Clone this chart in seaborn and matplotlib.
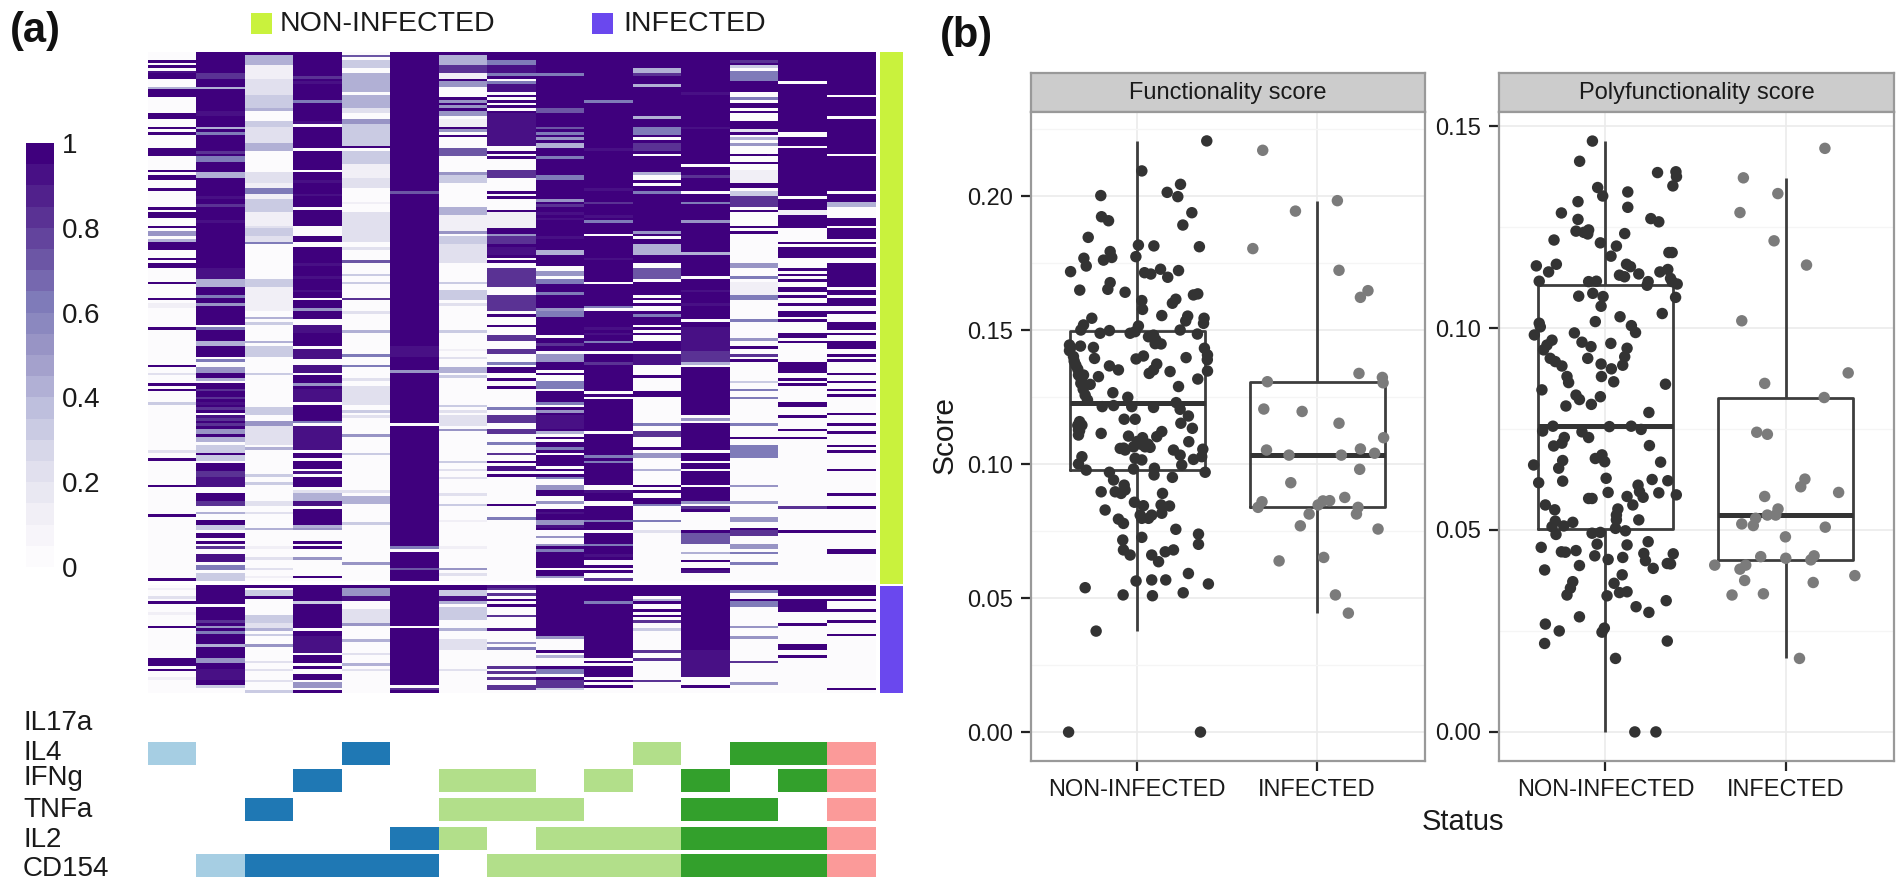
import numpy as np
import pandas as pd
import seaborn as sns
import matplotlib.pyplot as plt
from matplotlib.colors import ListedColormap
from matplotlib.patches import Rectangle

W, H = 1900, 881

sns.set_style("white")
plt.rcParams["font.family"] = ["Liberation Sans", "DejaVu Sans"]

LIME = "#c9f23d"
VIOLET = "#6a48ee"
PAIRED = ["#ffffff", "#a6cee3", "#1f78b4", "#b2df8a", "#33a02c", "#fb9a99"]

# heatmap values, in tenths: base level of each column + "row:level" or "first-last:level"
ni_bases = [0, 10, 0, 10, 0, 10, 0, 0, 10, 10, 10, 10, 0, 10, 10]
ni_stripes = [
    "3:10 5:10 7:9 8-9:10 13:4 14-15:10 16:10 23-24:10 28:10 30:10 36:10 37-38:10 44:10 46-47:10 51:10 58:10 60-61:10 65:10 67-68:5 70:4 71-73:10 77:10 79-80:10 86:10 92:10 94-95:1 "
    "103:10 117:10 120:2 124:10 126:10 131:3 149:2 152:10 162:10 173:10 197:10",
    "8-9:8 13:4 22-23:9 28:4 30:6 37:8 39-40:6 45-46:4 54:9 57:8 63:9 81-84:9 85-87:4 91:6 94:5 "
    "102:0 103:6 108-109:4 114:0 115:6 116-117:0 118-119:5 122:4 123:0 126:8 129:8 131:9 133:8 135:0 136:9 137:8 139:8 141-142:5 144-145:4 146:0 147-149:3 151-152:3 153:0 157-158:8 159-162:9 163-164:0 168-169:8 170-171:0 172:4 173-174:0 177-178:3 179:0 182:0 184:0 185:8 186-187:0 188-190:9 191:0 192-193:6 194:0 195-197:3",
    "0:10 1-4:4 5-9:1 10:2 11-15:2 16-20:3 21:4 26-27:3 28-33:2 34-36:4 45-48:2 49-50:1 51-52:6 53-54:1 55-59:3 60-64:1 65:2 66-68:3 69-70:2 71:6 85-87:3 88-96:1 "
    "99:4 101:3 108:4 110-113:3 120:3 133-135:3 138-139:5 140-146:2 148:4 158:3 161:3 168-169:2 172:2 178:4 185:1 189:2 193:2 196:1",
    "9:8 11:9 18:6 26:9 27:0 36:0 44:0 48:9 53:9 58:0 65-68:0 71-72:0 79:9 84:9 89:9 92:0 96:5 "
    "100-101:0 102-104:9 110:0 111-114:9 115-116:0 117-119:9 120:0 124:5 126-130:9 131:0 138:6 139:0 140-148:9 149:0 152:0 156:0 157:9 158:0 163:0 164:2 165-167:4 168-169:9 170:0 177:4 178:5 179-182:0 184:0 186-188:0 189:5 190-195:0 197:0",
    "1:7 3-5:3 8-14:4 16-20:4 21-22:2 25-26:5 27-34:3 35:10 37-41:3 42-46:1 47-50:2 56:1 60-70:2 73:2 78:7 83:3 86:3 92:8 "
    "97:2 104:4 113:6 117:6 122:2 125-131:2 134:3 136:2 143:5 150:3 164:2 166-168:4 176:3 191:5",
    "52:7 110-113:9 119:5 139:0 185:6 186:0 193:7",
    "0:10 1-4:4 5-7:8 8-9:1 10:10 11-12:5 17:10 18:5 19:10 20:5 21:10 22-23:5 25-27:1 28:10 29:5 31:10 36-38:7 45:5 46-48:3 58-60:4 61-66:1 67:5 69-71:3 72-78:2 86:3 89-92:3 94:2 "
    "104:3 111:1 114:2 118-119:4 121:3 132:3 134:2 136-139:2 141:5 153:3 156:2 159:2 165:2 169:3 175:1 185:1 193:5 195:2",
    "0-2:10 3-4:6 5-7:9 8:6 9:10 11:6 12-14:9 16:10 18:10 20:10 22:10 23-28:9 29-34:9 37:10 39:10 44-46:8 52:10 54:10 59:10 60-65:1 66-67:10 68:5 69-71:8 72:10 73-75:9 76:10 78:10 81-87:8 91-96:8 "
    "98:10 102:10 106-107:8 111-112:8 116:6 118-119:10 122:10 125:10 133:6 136-138:8 141-142:8 146:6 150:8 153:10 155-156:9 158:10 169:10 174:6",
    "8:6 21-22:7 28:7 30:6 32:5 34-35:4 39:6 46-47:6 55:5 57:8 60:9 62:9 69:9 74-75:4 80-81:0 82-83:5 84:0 85-86:6 90:6 96:5 "
    "97-98:6 106:0 109:8 112:0 113-115:5 119:0 121-122:0 123-125:6 126:0 131:6 132:0 134:5 136-140:9 142:4 143:0 145:0 148:6 150:0 155:0 157:0 159:6 160-161:0 162-163:5 166-167:0 168:5 169-170:0 172:9 175-176:5 177:9 179-180:0 181:5 182-183:0 184:5 186:6 193:0 196:5 197:0",
    "18:6 36:9 51:9 56:8 61:9 63:6 68:0 77:9 86:0 95:6 96:0 "
    "103:9 105:9 108:6 112:0 116:8 127:0 129:0 142:0 151:6 153:6 162-163:0 164:9 168-169:0 175:6 179:0 184:6 188:9 190-191:0 193:0 195-196:0 197:8",
    "6-7:4 8:8 12:4 24:4 28-30:6 32:0 34-36:8 38:0 45:4 46:0 47:0 49:0 52:6 67:5 69:0 72-75:4 79-80:0 81-84:7 85:0 91:0 93:0 95-96:0 "
    "98:6 102:0 104:0 106-107:0 112:0 113-116:9 117-197:0 121:10 127-128:10 139:6 142-143:8 148:10 150-151:5 156:4 162:10 164:10 167-168:10 169:6 175:6 179:2",
    "15:9 28:9 42:0 46:8 52:0 56:6 63:5 75:4 84:0 89:9 94:9 "
    "100:0 103-111:9 112-115:8 116:4 117:0 136:0 137:5 138:0 149:0 153:0 156:0 162:0 168:5 169:0 170:8 172-178:0 180-183:7 184-186:0 187:4 188-189:0 191-192:0 194:9 195-197:0",
    "0-2:10 3:8 4:10 5:3 7-10:6 11-14:10 17:6 19-20:10 22:10 26-28:10 29:2 30:10 32:4 34:5 38:10 41:10 44-48:1 49-50:10 52-53:3 54-57:8 59:10 65:10 67:10 79-80:5 84:6 86-90:1 91-92:6 "
    "100:6 107:5 110:10 113:8 115:10 123:3 126:6 129:6 139:6 144:10 147-151:6 162:5 168:5 174-175:5 178:10 179-180:8 184-185:5 187:6 191:6",
    "11:0 30-31:0 35:0 54:0 59-60:1 66-70:0 72:0 77-80:0 82:0 84:0 86-87:0 90:0 92:0 93:0 95-96:0 "
    "97-197:0 97-98:10 100:10 105-106:10 108:10 116-119:10 122:10 124:10 131-132:10 136:10 141:10 144:10 170:8 179:10",
    "16:0 24:0 38:0 52:0 56-57:4 58-61:0 65:0 70:0 72:0 77-78:0 88:0 91:0 95-96:0 "
    "97-197:0 97:10 101-103:10 105:10 108-110:10 113:10 115:10 120:10 123:10 126:10 128:10 135:10 139:10 142:10 147:10 149:10 156:10 165:10 170:10 179:10 186-187:10",
]
inf_bases = [0, 10, 0, 10, 0, 10, 0, 0, 10, 10, 0, 10, 0, 0, 0]
inf_stripes = [
    "1:1 4:2 6:10 10:1 15:10 27-29:10 31:10 34:1",
    "7:0 13:8 15:5 17:6 22:4 27-28:5 31-34:9 37:3 38-39:0",
    "0:10 2-3:3 4:10 11-13:3 14-15:2 16:4 18:3 22:5 28:2 31:2 35:2 39:3",
    "6:3 16:0 19-24:9 25:0 29:0 31-32:0 35:0 36-37:5 38:0",
    "0:10 1-3:5 4-5:9 9-13:2 14:5 20:4 25:2 29:4 31:2",
    "15:0 37:0 38:8",
    "0-1:10 2-3:3 4-5:9 6:4 8-12:3 16:4 20-23:2 31:2",
    "0:9 1:8 3:8 5:10 7:10 11:8 16:9 21:5 23:6 30:8 32:8 34:8 37-38:8",
    "19:5 20-23:0 25:0 26:4 27-29:0 31-32:6 33:0 35-37:8 38:3 39:0",
    "6:6 27:0 29:0 34:0 36:0 38-39:0",
    "0-3:10 5:4 6:10 9:10 11:10 13:8 16:3 24:8 27:8 35:8",
    "24-33:9 34-36:0 38-39:0",
    "0-1:10 2:6 5:10 6-7:6 15:5 19:5 28:8 36:5",
    "0-3:10 5-9:10 14:10 22-23:10 26:10",
    "0-3:10 5:10 9:10 13:10 18:10 38:10",
]

# which cytokines make up each of the 15 columns
cytokines = ["IL17a", "IL4", "IFNg", "TNFa", "IL2", "CD154"]
presence = [
    [0, 0, 0, 0, 0, 0, 0, 0, 0, 0, 0, 0, 0, 0, 0],
    [1, 0, 0, 0, 1, 0, 0, 0, 0, 0, 1, 0, 1, 1, 1],
    [0, 0, 0, 1, 0, 0, 1, 1, 0, 1, 0, 1, 0, 1, 1],
    [0, 0, 1, 0, 0, 0, 1, 1, 1, 0, 0, 1, 1, 0, 1],
    [0, 0, 0, 0, 0, 1, 1, 0, 1, 1, 1, 1, 1, 1, 1],
    [0, 1, 1, 1, 1, 1, 0, 1, 1, 1, 1, 1, 1, 1, 1],
]
tile_tops = [714, 742, 769, 798, 827, 854]
label_mids = [723, 753, 778, 810, 840, 869]

# box panels: jitter is the sideways offset from the category centre
func_ni_jitter = [.387, .026, .241, .167, .226, -.202, .304, -.198, -.159, .254, -.272, .007, .093, .346, -.150, -.007, -.296, -.141, -.187, -.283, .041, .076, .130, .230, .170, -.370, -.150, -.163, -.319, -.067, .337, .313, .026, .215, .196, .030, .137, .281, .270, .372, .369, -.252, -.298, -.313, .007, -.154, -.206, -.039, -.011, .239, .335, .091, .063, .104, .133, -.376, -.376, -.315, -.243, .374, .391, -.354, -.237, -.006, .035, .272, -.341, -.154, -.104, .109, .091, .067, .183, .391, -.326, -.298, -.215, .337, -.313, -.261, .230, -.289, -.135, -.052, -.276, .217, -.194, -.131, -.030, .091, .239, .285, -.072, -.011, -.320, -.307, .243, -.326, .307, -.326, -.200, -.048, .137, .109, .030, .287, .007, -.094, -.067, -.020, .044, .072, .202, .365, .239, .359, .313, -.011, .026, -.307, -.326, .248, -.283, -.154, -.020, .096, .094, .378, .196, -.131, -.072, -.200, -.122, -.089, -.067, .141, -.015, .035, .133, .180, -.178, .017, .137, .081, .063, .026, -.104, -.076, .215, .341, .026, -.080, .341, -.076, -.039, .081, .156, .202, .119, .285, -.006, .081, .159, .396, -.289, -.078, .085, .256, -.228, -.381, .352,
                  -.37, -.35, -.33, -.31, -.30, -.33, -.32, .0, .02, .06, -.075, .055, .39, .10]
func_ni_score = [.2207, .2095, .2045, .2015, .1999, .2003, .1939, .1924, .1909, .1893, .1847, .1818, .1815, .1812, .1794, .1775, .1769, .1772, .1762, .174, .1715, .171, .1728, .1723, .1698, .1719, .1678, .1653, .165, .1642, .1636, .1632, .1611, .1616, .1601, .1578, .1555, .1553, .1535, .1545, .1526, .1545, .152, .1501, .1516, .1499, .1489, .1489, .1495, .1501, .1486, .1482, .1476, .1464, .1449, .1445, .1424, .1441, .1436, .1433, .1408, .1402, .1395, .1393, .1404, .1398, .137, .1367, .1352, .1374, .1352, .1339, .1346, .1348, .1333, .1333, .1327, .1318, .1302, .1298, .129, .1258, .1267, .125, .124, .123, .1215, .1219, .1215, .1212, .1205, .118, .1168, .1168, .1159, .1146, .1153, .1128, .1134, .1109, .1115, .1105, .1122, .1103, .1099, .1084, .1078, .1059, .1053, .1065, .1065, .1063, .1053, .1056, .1034, .1028, .1018, .1022, .1016, .1028, .1001, .0997, .0978, .097, .0982, .0985, .096, .097, .0951, .0941, .0922, .0897, .0897, .0891, .0904, .0891, .0858, .0845, .0848, .0844, .0829, .081, .0817, .081, .0798, .0798, .0795, .0779, .0757, .0739, .0727, .0717, .0701, .068, .0661, .0661, .0673, .068, .0636, .0592, .0564, .0568, .0568, .0553, .0539, .0512, .0509, .052, .0377, 0.0, 0.0,
                 .1435, .1385, .1355, .1315, .128, .1145, .1125, .1085, .1075, .1075, .106, .107, .139, .145]
func_inf_jitter = [-.302, .113, -.120, -.357, .122, .283, .241, .233, .363, .367, -.276, -.296, -.083, .122, .370, -.281, -.156, .135, .241, .320, .237, -.146, .154, -.306, -.328, .070, .033, .006, .228, .219, -.044, -.093, .339, .037, -.211, .102, .174]
func_inf_score = [.2172, .1984, .1945, .1805, .1724, .1648, .1623, .1339, .1324, .1304, .1308, .1206, .1197, .1153, .1099, .1053, .1034, .1034, .1057, .1041, .0981, .0931, .0876, .086, .0839, .0864, .0863, .0848, .0839, .0814, .0814, .077, .0758, .0652, .0639, .0512, .0444]
poly_ni_jitter = [-.072, -.143, .289, .391, .394, .374, -.043, -.015, .124, -.152, .124, -.244, -.152, .252, .296, -.163, -.120, -.093, -.098, .107, -.285, -.028, .061, .031, .352, .370, -.383, -.272, -.315, .117, .139, .078, .106, .185, .302, .346, -.367, -.093, -.050, .237, .231, .361, .370, .398, -.148, -.070, -.013, -.024, .389, .315, -.056, .081, .144, .167, -.367, -.361, -.394, -.172, -.130, -.080, -.296, -.324, -.343, .030, .120, .107, .096, -.098, -.306, -.278, -.241, -.024, .033, -.213, -.204, -.022, .046, .333, -.352, -.163, -.144, -.028, -.219, -.078, .241, -.348, -.291, -.130, -.093, .022, .143, .198, .244, -.228, -.241, -.287, -.056, -.019, -.004, -.237, -.259, -.398, .306, -.370, -.237, .004, .259, .346, .181, .189, .209, .015, .296, .393, -.074, -.093, .120, .152, -.333, -.281, .069, .061, .061, .185, -.278, -.181, -.231, -.296, .056, -.274, -.074, -.028, .111, .237, -.046, .120, -.356, -.244, -.222, -.163, .213, .376, -.059, .096, .222, .015, .343, .361, -.144, -.337, .265, -.181, .093, -.194, -.213, .048, .009, .078, .120, .337, .170, .241, -.144, -.333, -.256, -.006, -.019, .343, -.337, .056, .163, .280]
poly_ni_score = [.1463, .1413, .1385, .1387, .1375, .1352, .1348, .1327, .1337, .1313, .1299, .1285, .1269, .1271, .1263, .124, .1237, .1243, .1233, .1234, .1218, .1211, .1203, .1178, .1187, .1187, .1154, .1158, .1139, .1158, .1152, .1131, .1127, .1134, .1139, .1145, .1116, .1115, .1116, .1115, .1106, .1123, .1115, .1109, .1079, .1086, .1078, .1054, .1076, .1036, .1016, .1028, .1006, .0989, .1012, .1003, .0983, .0988, .0965, .0954, .097, .0958, .0946, .0962, .095, .0929, .0908, .0925, .0925, .0917, .0906, .0911, .0899, .088, .0865, .088, .0867, .0861, .0847, .0834, .0823, .083, .0807, .0811, .0791, .0745, .0757, .0743, .0729, .0756, .0757, .0749, .0709, .0729, .0715, .0708, .0677, .0686, .0669, .0672, .0653, .0661, .0668, .0617, .0621, .0628, .0625, .0622, .0611, .0595, .0581, .0593, .0592, .0587, .0578, .0578, .0583, .0562, .0562, .055, .0552, .0537, .0525, .0525, .0522, .0519, .051, .0508, .0504, .0489, .0492, .0494, .0498, .0471, .0465, .0463, .0457, .0446, .0445, .0449, .0442, .0441, .0436, .0432, .0424, .0427, .0417, .0416, .0412, .0401, .0405, .0372, .0389, .0356, .0339, .0368, .0337, .0345, .0347, .0325, .031, .0296, .0285, .0267, .025, .0257, .0247, .0225, .0219, .0182, 0.0, 0.0]
poly_inf_jitter = [.217, -.235, -.044, -.254, -.065, .115, -.244, .346, -.117, .213, -.161, -.102, .106, .083, .293, -.117, -.043, -.102, -.056, -.167, -.244, -.180, .219, -.002, -.139, 0.0, .157, .139, -.222, -.394, -.254, .383, -.228, .152, -.298, -.124, .076]
poly_inf_score = [.1445, .1372, .1333, .1286, .1216, .1156, .1018, .0889, .0863, .0828, .0742, .0737, .0626, .0607, .0593, .0583, .0552, .0537, .0537, .0529, .0515, .0511, .0507, .0483, .0434, .043, .0436, .0426, .0413, .0413, .0403, .0387, .0375, .037, .0339, .0342, .0182]

status_order = ["NON-INFECTED", "INFECTED"]
point_colors = {"NON-INFECTED": "#333333", "INFECTED": "#7b7b7b"}


def expand(base, stripes, n_rows):
    col = np.full(n_rows, base, dtype=float)
    for token in stripes.split():
        where, level = token.split(":")
        first, _, last = where.partition("-")
        col[int(first):int(last or first) + 1] = int(level)
    return col / 10


def px_axes(left, top, right, bottom):
    return fig.add_axes([left / W, 1 - bottom / H, (right - left) / W, (bottom - top) / H])


def panel_frame(ni_jitter, ni_score, inf_jitter, inf_score):
    ni = pd.DataFrame({"status": status_order[0], "pos": 0 + np.array(ni_jitter), "score": ni_score})
    inf = pd.DataFrame({"status": status_order[1], "pos": 1 + np.array(inf_jitter), "score": inf_score})
    return pd.concat([ni, inf], ignore_index=True)


def draw_panel(left, right, ylim, major, minor, title, frame):
    strip = px_axes(left, 73, right, 112)
    strip.set_facecolor("#cccccc")
    strip.set_xticks([])
    strip.set_yticks([])
    for side in strip.spines.values():
        side.set_color("#999999")
        side.set_linewidth(1.6)
    strip.text(0.5, 0.48, title, ha="center", va="center", fontsize=17, color="#1a1a1a", transform=strip.transAxes)

    ax = px_axes(left, 112, right, 761)
    ax.set_axisbelow(True)
    sns.boxplot(data=frame, x="status", y="score", order=status_order, width=0.75, fill=False,
                color="#3d3d3d", linewidth=2.0, showfliers=False, showcaps=False,
                medianprops={"linewidth": 3.6, "color": "#333333"}, ax=ax)
    sns.scatterplot(data=frame, x="pos", y="score", hue="status", palette=point_colors, s=68,
                    linewidth=0, alpha=1, legend=False, zorder=3, ax=ax)
    ax.set_xlim(-0.59, 1.6)
    ax.set_ylim(*ylim)
    ax.set_yticks(major)
    ax.set_yticklabels([f"{m:.2f}" for m in major])
    ax.set_yticks(minor, minor=True)
    ax.set_xticks([0, 1])
    ax.set_xticklabels(status_order)
    ax.grid(True, which="major", color="#ebebeb", linewidth=1.2)
    ax.grid(True, which="minor", axis="y", color="#f5f5f5", linewidth=1.0)
    ax.tick_params(axis="both", which="major", length=7, width=1.6, color="#222222",
                   labelsize=17, labelcolor="#1a1a1a", pad=6, bottom=True, left=True)
    ax.tick_params(axis="y", which="minor", length=0)
    ax.set_xlabel("")
    ax.set_ylabel("")
    for side in ax.spines.values():
        side.set_color("#999999")
        side.set_linewidth(1.6)


fig = plt.figure(figsize=(W / 100, H / 100), dpi=100, facecolor="white")

purples = ListedColormap(plt.get_cmap("Purples", 20)(np.arange(20)))
ni_matrix = np.column_stack([expand(b, s, 198) for b, s in zip(ni_bases, ni_stripes)])
inf_matrix = np.column_stack([expand(b, s, 40) for b, s in zip(inf_bases, inf_stripes)])

heat_l, heat_r = 147.5, 875.5
cax = px_axes(26, 143, 54, 567)
ax_ni = px_axes(heat_l, 52, heat_r, 581)
sns.heatmap(ni_matrix, cmap=purples, vmin=0, vmax=1, xticklabels=False, yticklabels=False,
            ax=ax_ni, cbar_ax=cax, cbar_kws={"ticks": [0, 0.2, 0.4, 0.6, 0.8, 1]})
cax.set_yticklabels(["0", "0.2", "0.4", "0.6", "0.8", "1"])
cax.tick_params(length=0, labelsize=20, pad=6, labelcolor="#1a1a1a")
ax_ni.collections[0].colorbar.outline.set_visible(False)

ax_inf = px_axes(heat_l, 585, heat_r, 693)
sns.heatmap(inf_matrix, cmap=purples, vmin=0, vmax=1, xticklabels=False, yticklabels=False,
            cbar=False, ax=ax_inf)

# status bar beside the heatmap
for top, bottom, colour in [(52, 584, LIME), (586, 693, VIOLET)]:
    bar = px_axes(880, top, 903, bottom)
    sns.heatmap([[0]], cmap=[colour], cbar=False, xticklabels=False, yticklabels=False, ax=bar)

# cytokine tiles
degree = np.array(presence).sum(axis=0)
tile_cmap = ListedColormap(PAIRED)
for name, row, top, mid in zip(cytokines, presence, tile_tops, label_mids):
    tile = px_axes(heat_l, top, heat_r, top + 23)
    sns.heatmap([np.array(row) * degree], cmap=tile_cmap, vmin=-0.5, vmax=5.5, cbar=False,
                xticklabels=False, yticklabels=False, ax=tile)
    fig.text(23 / W, 1 - mid / H, name, fontsize=20, color="#1a1a1a", va="center")

# overlay for legend squares and panel letters, in picture pixels
overlay = fig.add_axes([0, 0, 1, 1], zorder=-1)
overlay.set_xlim(0, W)
overlay.set_ylim(H, 0)
overlay.axis("off")
overlay.add_patch(Rectangle((251, 13), 21, 21, color=LIME, linewidth=0))
overlay.add_patch(Rectangle((592, 13), 21, 21, color=VIOLET, linewidth=0))
overlay.text(280, 24, "NON-INFECTED", fontsize=20.5, va="center", color="#1a1a1a")
overlay.text(623, 24, "INFECTED", fontsize=20.5, va="center", color="#1a1a1a")
overlay.text(10, 31, "(a)", fontsize=30, fontweight="bold", va="center", color="#111111")
overlay.text(940, 36, "(b)", fontsize=30, fontweight="bold", va="center", color="#111111")
overlay.text(945, 435, "Score", fontsize=21.5, rotation=90, ha="center", va="center", color="#1a1a1a")
overlay.text(1463, 822, "Status", fontsize=21, ha="center", va="center", color="#1a1a1a")

draw_panel(1031, 1425, (-0.0108, 0.2315), [0, 0.05, 0.10, 0.15, 0.20], [0.025, 0.075, 0.125, 0.175, 0.225],
           "Functionality score", panel_frame(func_ni_jitter, func_ni_score, func_inf_jitter, func_inf_score))
draw_panel(1499, 1894, (-0.0072, 0.1535), [0, 0.05, 0.10, 0.15], [0.025, 0.075, 0.125],
           "Polyfunctionality score", panel_frame(poly_ni_jitter, poly_ni_score, poly_inf_jitter, poly_inf_score))

fig.savefig("out.png", dpi=100)
